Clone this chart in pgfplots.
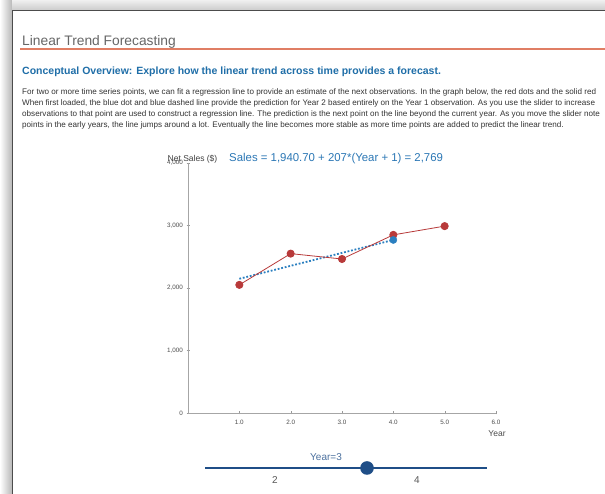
\documentclass[border=0pt]{standalone}
\usepackage{fontspec}
\setmainfont{Liberation Sans}
\usepackage{pgfplots}
\pgfplotsset{compat=1.18}
\definecolor{redpt}{HTML}{B83A3A}
\definecolor{bluept}{HTML}{2A7FC0}
\definecolor{eqblue}{HTML}{2B77B5}
\definecolor{headblue}{HTML}{1F6EA8}
\definecolor{slidercol}{HTML}{1F4E87}
\definecolor{txtgray}{HTML}{333333}
\definecolor{rulecol}{HTML}{E07E64}
\begin{document}
\begin{tikzpicture}[x=1pt,y=1pt]
\useasboundingbox (0,0) rectangle (605,494);
\clip (0,0) rectangle (605,494);
\fill[white] (0,0) rectangle (605,494);
% page shadow and frame
\shade[left color=white, right color=black!28] (0,0) rectangle (12,494);
\shade[top color=black!6, bottom color=black!20] (12,484) rectangle (605,494);
\draw[black!70, line width=1.5pt] (12.5,0) -- (12.5,483.5) -- (605,483.5);
% header
\node[anchor=base west, inner sep=0pt, text=black!60, font=\fontsize{13.8}{15}\selectfont] at (22,448) {Linear Trend Forecasting};
\fill[rulecol] (20,443.5) rectangle (605,445.5);
\node[anchor=base west, inner sep=0pt, text=headblue, font=\fontsize{10.5}{12}\selectfont\bfseries] at (22,419.5) {Conceptual Overview: Explore how the linear trend across time provides a forecast.};
\begin{scope}[every node/.style={anchor=base west, inner sep=0pt, text=txtgray, font=\fontsize{8.1}{9}\selectfont}]
\node at (22,399) {For two or more time series points, we can fit a regression line to provide an estimate of the next observations. In the graph below, the red dots and the solid red};
\node at (22,388) {When first loaded, the blue dot and blue dashed line provide the prediction for Year 2 based entirely on the Year 1 observation. As you use the slider to increase};
\node at (22,377) {observations to that point are used to construct a regression line. The prediction is the next point on the line beyond the current year. As you move the slider note};
\node at (22,366) {points in the early years, the line jumps around a lot. Eventually the line becomes more stable as more time points are added to predict the linear trend.};
\end{scope}
% chart
\begin{axis}[
  at={(188pt,81pt)}, anchor=south west,
  scale only axis, width=308pt, height=250pt,
  xmin=0, xmax=6, ymin=0, ymax=4000,
  axis lines=left, axis line style={black!35, -},
  xtick={1,2,3,4,5,6}, xticklabels={1.0,2.0,3.0,4.0,5.0,6.0},
  ytick={0,1000,2000,3000,4000}, yticklabels={0,{1,000},{2,000},{3,000},{4,000}},
  tick style={black!40}, major tick length=3pt,
  tick label style={font=\fontsize{6.3}{7}\selectfont, text=black!70},
  /pgf/number format/assume math mode=true,
  xticklabel style={yshift=-2pt},
  clip=false,
]
\addplot[bluept, line width=1.8pt, dash pattern=on 1.8pt off 1.8pt] coordinates {(1,2147.7) (4,2768.7)};
\addplot[redpt, line width=0.8pt, mark=*, mark size=3.6pt, mark options={solid, fill=redpt, draw=redpt}] coordinates {(1,2050) (2,2550) (3,2464) (4,2850) (5,2990)};
\addplot[only marks, mark=*, mark size=3.6pt, bluept, mark options={fill=bluept}] coordinates {(4,2768.7)};
\end{axis}
\node[text=black!75, font=\fontsize{8.5}{9}\selectfont, inner sep=0pt] at (192.5,335) {Net Sales (\$)};
\node[anchor=west, text=eqblue, font=\fontsize{11.4}{12}\selectfont, inner sep=0pt] at (229,335) {Sales = 1,940.70 + 207*(Year + 1) = 2,769};
\node[text=black!70, font=\fontsize{8.5}{9}\selectfont, inner sep=0pt] at (497,60) {Year};
% slider
\draw[slidercol, line width=1.7pt] (205,26) -- (487,26);
\fill[slidercol] (367,26) circle (6.8);
\node[text=slidercol!80, font=\fontsize{10}{11}\selectfont, inner sep=0pt] at (326,37) {Year=3};
\node[text=black!65, font=\fontsize{10}{11}\selectfont, inner sep=0pt] at (275,13.5) {2};
\node[text=black!65, font=\fontsize{10}{11}\selectfont, inner sep=0pt] at (417,13.5) {4};
\end{tikzpicture}
\end{document}
